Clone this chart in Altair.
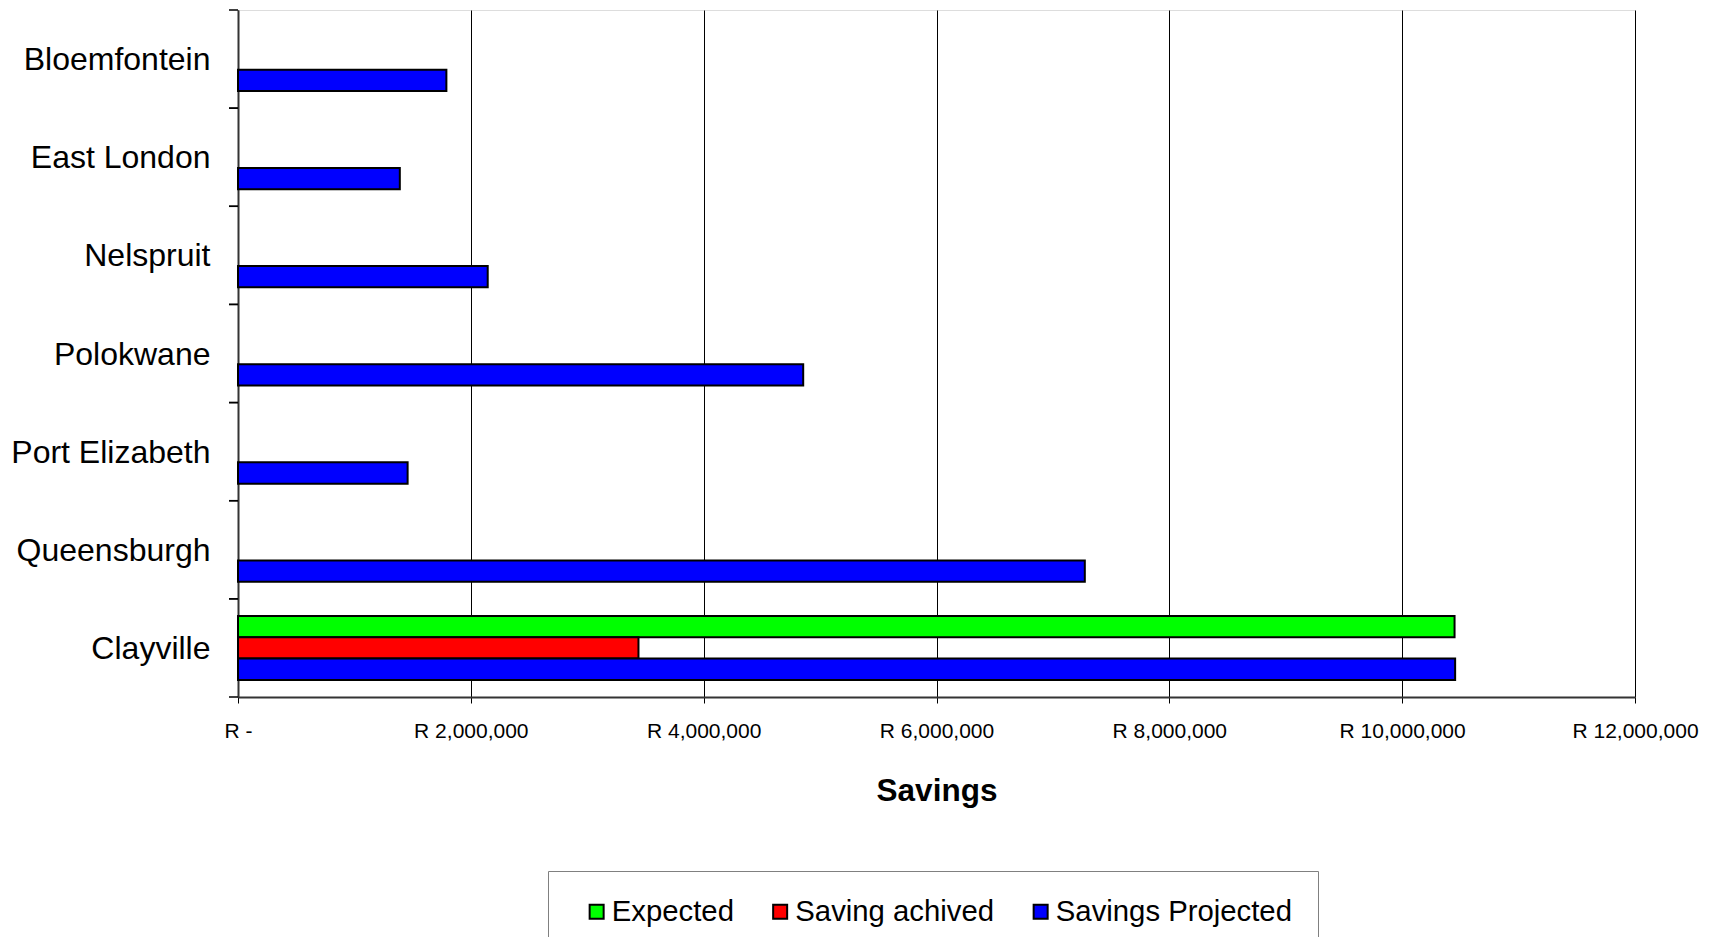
import altair as alt
import pandas as pd

cities = ["Bloemfontein", "East London", "Nelspruit", "Polokwane",
          "Port Elizabeth", "Queensburgh", "Clayville"]
series_names = ["Expected", "Saving achived", "Savings Projected"]
series_colors = ["#00FF00", "#FF0000", "#0000FF"]

expected = [None, None, None, None, None, None, 10450000]
achieved = [None, None, None, None, None, None, 3440000]
projected = [1790000, 1390000, 2145000, 4855000, 1457000, 7274000, 10455000]

x_ticks = [0, 2000000, 4000000, 6000000, 8000000, 10000000, 12000000]

rows = []
for name, vals in zip(series_names, [expected, achieved, projected]):
    for c, v in zip(cities, vals):
        if v is not None:
            rows.append({"city": c, "series": name, "value": v})
df = pd.DataFrame(rows)
cities_df = pd.DataFrame({"city": cities})

FONT = "Liberation Sans"

yscale = alt.Scale(domain=cities, paddingInner=0, paddingOuter=0)
y_axis = alt.Axis(title=None, ticks=False, labelFont=FONT, labelFontSize=32,
                  labelColor="black", labelPadding=28, labelOffset=1,
                  domainColor="#333333", domainWidth=2, grid=False, labelLimit=400)

bars = alt.Chart(df).mark_bar(stroke="black", strokeWidth=2, opacity=1).encode(
    x=alt.X("value:Q",
            scale=alt.Scale(domain=[0, 12000000], nice=False, zero=True),
            axis=alt.Axis(values=x_ticks, title="Savings",
                          labelExpr="datum.value == 0 ? 'R -' : 'R ' + format(datum.value, ',')",
                          grid=True, gridColor="black", gridWidth=1,
                          tickSize=6, tickColor="black", domainColor="#333333", domainWidth=2,
                          labelFont=FONT, labelFontSize=21, labelColor="black",
                          labelPadding=17, labelFlush=False, labelOverlap=False,
                          titleFont=FONT, titleFontSize=31.5, titleFontWeight="bold",
                          titleColor="black", titlePadding=34)),
    y=alt.Y("city:N", scale=yscale, sort=cities, axis=y_axis),
    yOffset=alt.YOffset("series:N", sort=series_names,
                        scale=alt.Scale(domain=series_names, paddingInner=0, paddingOuter=0.8)),
    color=alt.Color("series:N", sort=series_names,
                    scale=alt.Scale(domain=series_names, range=series_colors),
                    legend=alt.Legend(title=None, orient="none", direction="horizontal",
                                      columns=3, legendX=310, legendY=861,
                                      padding=26, symbolOffset=8,
                                      strokeColor="#808080", fillColor="white",
                                      symbolType="square", symbolSize=196,
                                      symbolStrokeColor="black", symbolStrokeWidth=2,
                                      symbolOpacity=1,
                                      labelFont=FONT, labelFontSize=29.3, labelColor="black",
                                      labelOffset=0.5, columnPadding=23.5, labelLimit=400)),
)

ticks_top = alt.Chart(cities_df).mark_rule(color="black", strokeWidth=1.5).encode(
    y=alt.Y("city:N", scale=yscale, sort=cities, bandPosition=0, axis=y_axis),
    x=alt.value(-9), x2=alt.value(0),
)
ticks_bottom = alt.Chart(cities_df).mark_rule(color="black", strokeWidth=1.5).encode(
    y=alt.Y("city:N", scale=yscale, sort=cities, bandPosition=1, axis=y_axis),
    x=alt.value(-9), x2=alt.value(0),
)

chart = alt.layer(bars, ticks_top, ticks_bottom).properties(
    width=1397, height=687,
    autosize=alt.AutoSizeParams(type="none"),
    padding={"left": 238, "top": 10, "right": 83, "bottom": 240},
).configure_view(stroke="#808080", strokeWidth=2).configure(background="white")

chart.save("out.html", embed_options={"renderer": "svg", "actions": False})
